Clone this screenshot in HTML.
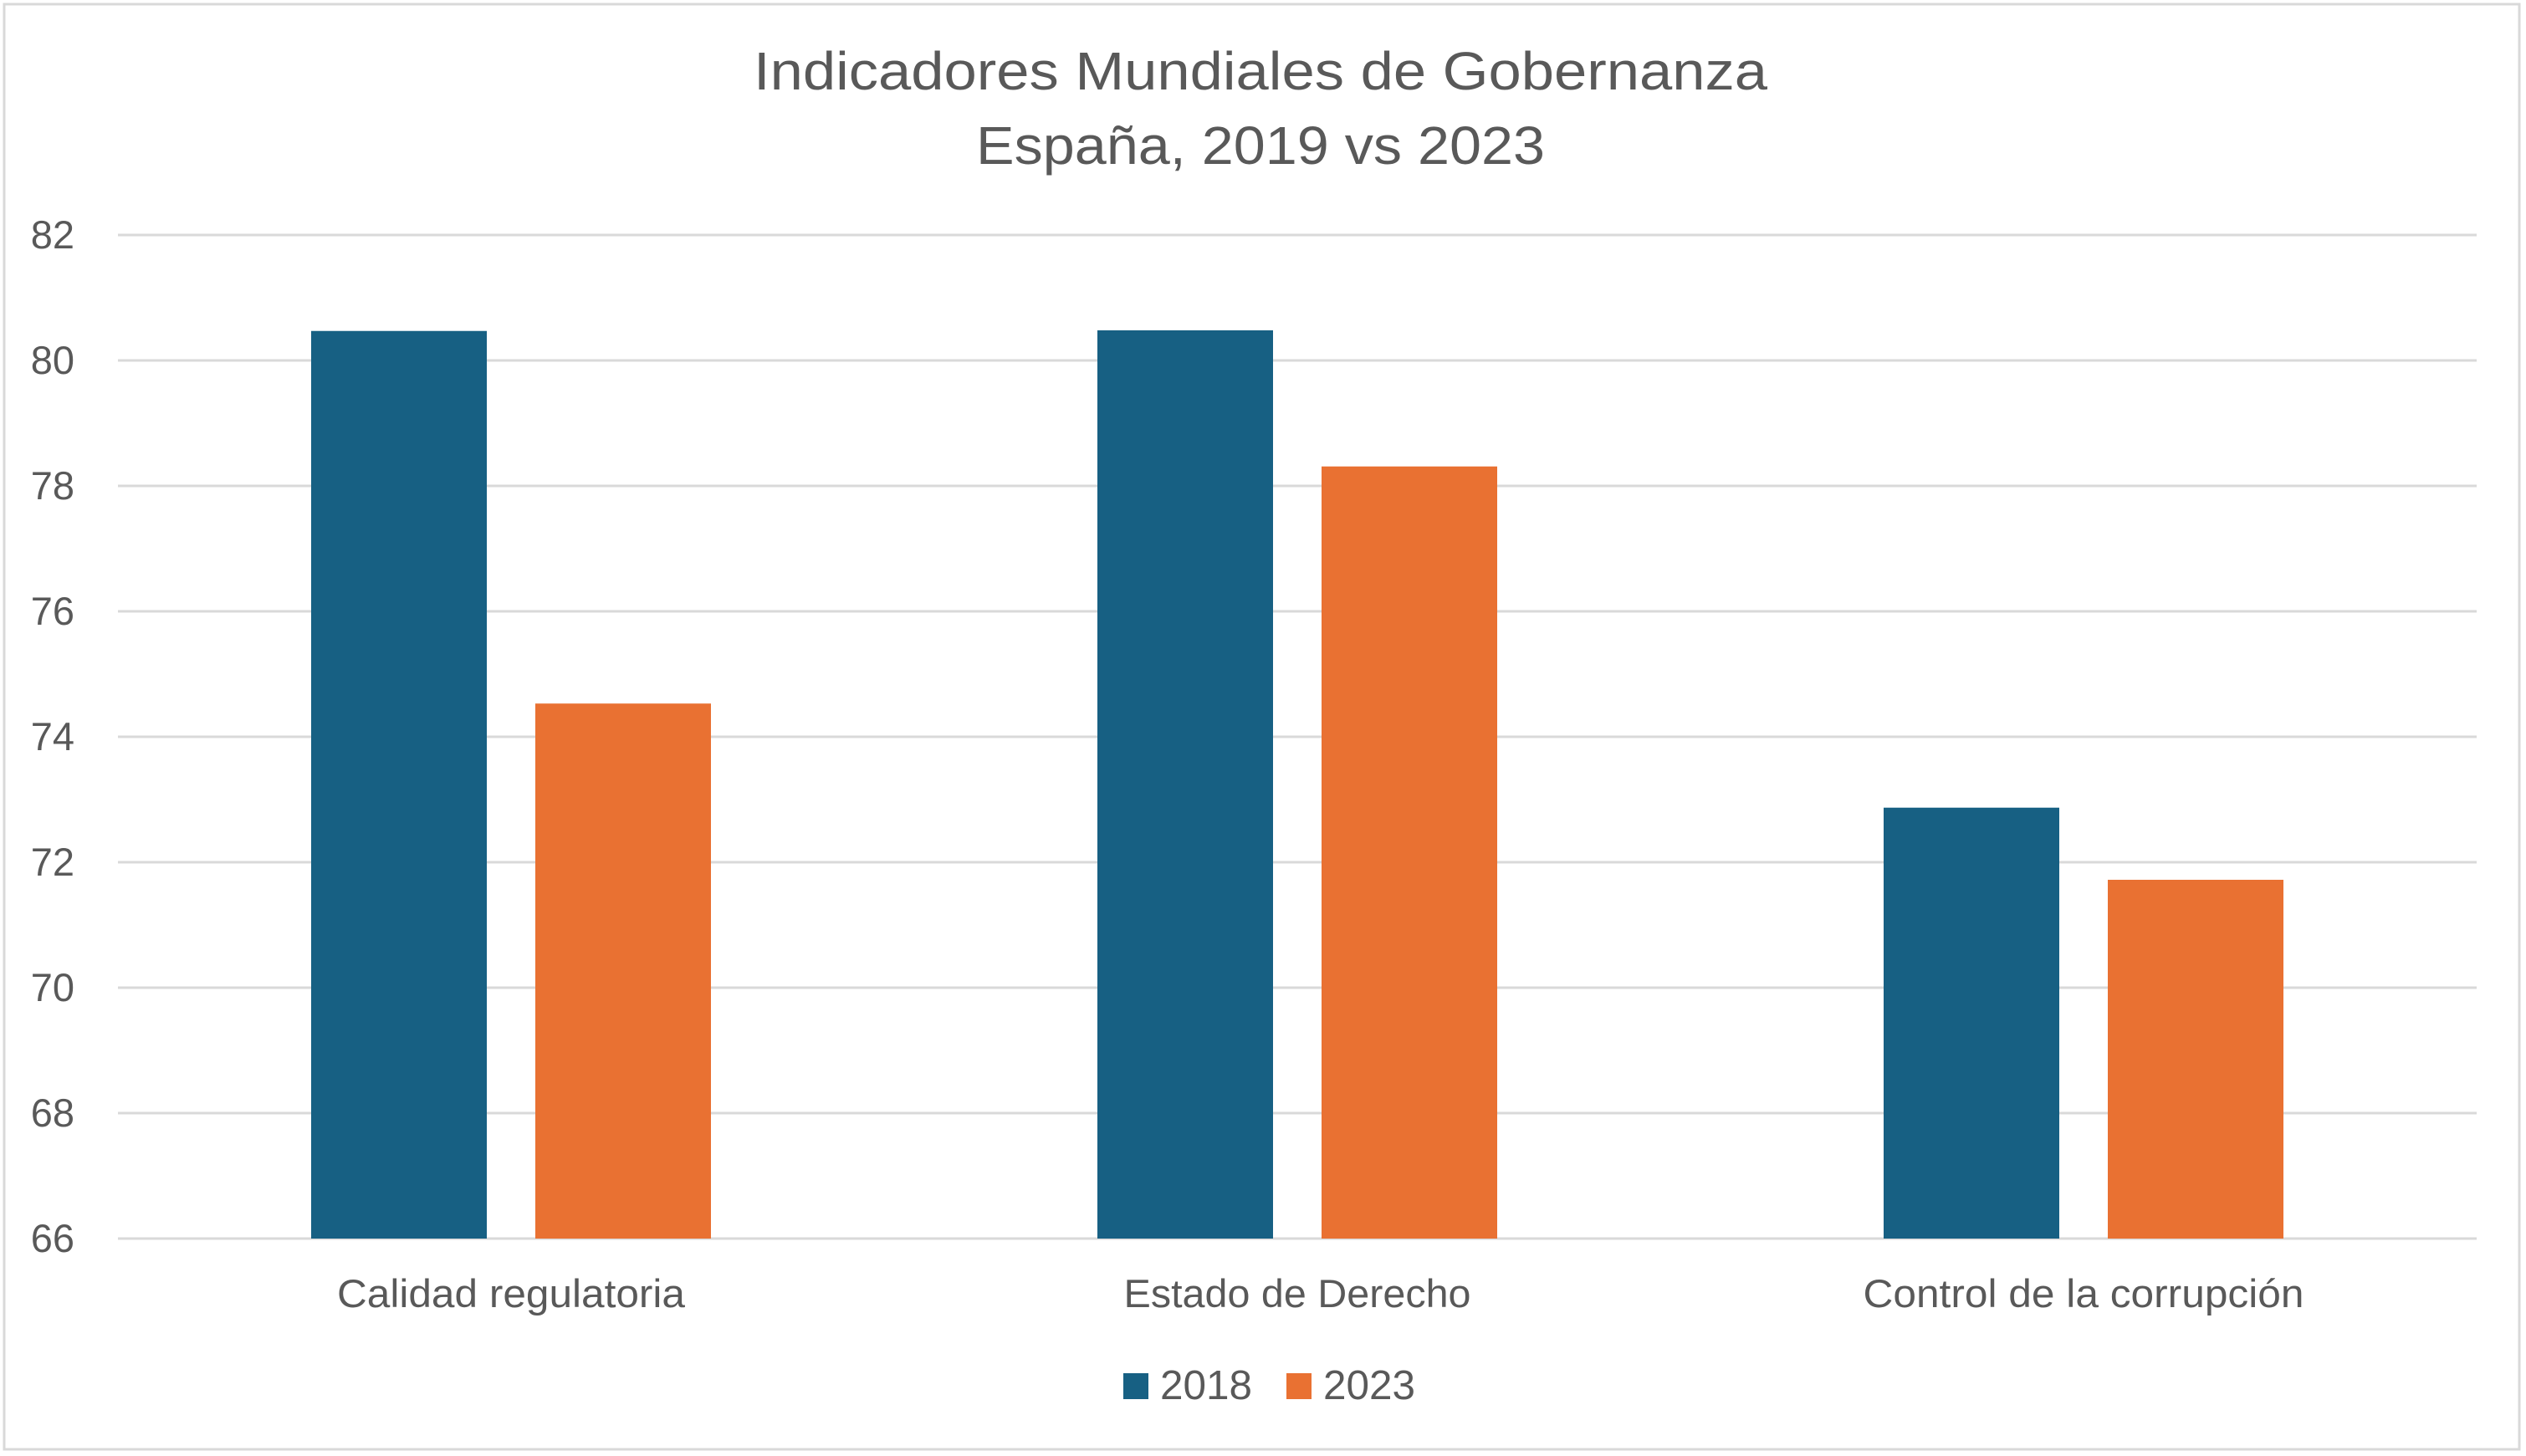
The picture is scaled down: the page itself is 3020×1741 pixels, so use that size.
<!DOCTYPE html>
<html><head><meta charset="utf-8"><style>
html,body{margin:0;padding:0;background:#fff;}
svg{display:block;font-family:"Liberation Sans",sans-serif;}
</style></head><body>
<svg id="chart" width="3020" height="1741" viewBox="0 0 3020 1741" xmlns="http://www.w3.org/2000/svg">
<rect x="5" y="5" width="3007" height="1728" fill="#fff" stroke="#d9d9d9" stroke-width="3"/>
<text x="1507" y="107" text-anchor="middle" font-size="64" fill="#595959" textLength="1212" lengthAdjust="spacingAndGlyphs">Indicadores Mundiales de Gobernanza</text>
<text x="1507" y="196" text-anchor="middle" font-size="64" fill="#595959" textLength="680" lengthAdjust="spacingAndGlyphs">España, 2019 vs 2023</text>
<g id="grid"></g>
<g id="yticks"></g>
<g id="bars"></g>
<g id="xlabels"></g>
<g>
<rect x="1343" y="1642" width="30" height="31" fill="#176083"/>
<text x="1387" y="1673" font-size="49" fill="#595959" textLength="110" lengthAdjust="spacingAndGlyphs">2018</text>
<rect x="1538" y="1642" width="30" height="31" fill="#E97132"/>
<text x="1582" y="1673" font-size="49" fill="#595959" textLength="110" lengthAdjust="spacingAndGlyphs">2023</text>
</g>
</svg>
<script>
const categories = ["Calidad regulatoria", "Estado de Derecho", "Control de la corrupción"];
const series2018 = [80.47, 80.48, 72.87];
const series2023 = [74.53, 78.31, 71.72];
const yTicks = [66, 68, 70, 72, 74, 76, 78, 80, 82];
const labelWidths = [416, 415, 527];

const NS = "http://www.w3.org/2000/svg";
const plotL = 141, plotR = 2961, plotT = 281, plotB = 1481;
const yMin = 66, yMax = 82;
function y(v){ return plotB - (v - yMin) / (yMax - yMin) * (plotB - plotT); }
const band = (plotR - plotL) / categories.length;
function xc(i){ return plotL + band * (i + 0.5); }
const barW = 210, gap = 58;

function mk(tag, attrs){ const e = document.createElementNS(NS, tag); for (const k in attrs) e.setAttribute(k, attrs[k]); return e; }

const grid = document.getElementById('grid');
const yt = document.getElementById('yticks');
yTicks.forEach(t => {
  const l = mk('line', {x1: plotL, x2: plotR, y1: y(t), y2: y(t), stroke: '#d9d9d9', 'stroke-width': 3});
  
  
  grid.appendChild(l);
  const tx = mk('text', {x: 89, y: y(t) + 16, 'text-anchor': 'end', 'font-size': 47, fill: '#595959'});
  
  
  tx.textContent = t;
  yt.appendChild(tx);
});

const bars = document.getElementById('bars');
const xl = document.getElementById('xlabels');
categories.forEach((c, i) => {
  const cx = xc(i);
  const b1 = mk('rect', {x: cx - gap/2 - barW, y: y(series2018[i]), width: barW, height: y(yMin) - y(series2018[i]), fill: '#176083'});
  
  
  bars.appendChild(b1);
  const b2 = mk('rect', {x: cx + gap/2, y: y(series2023[i]), width: barW, height: y(yMin) - y(series2023[i]), fill: '#E97132'});
  
  
  bars.appendChild(b2);
  const tx = mk('text', {x: cx, y: 1563, 'text-anchor': 'middle', 'font-size': 47, fill: '#595959', textLength: labelWidths[i], lengthAdjust: 'spacingAndGlyphs'});
  
  
  tx.textContent = c;
  xl.appendChild(tx);
});
</script>
</body></html>
